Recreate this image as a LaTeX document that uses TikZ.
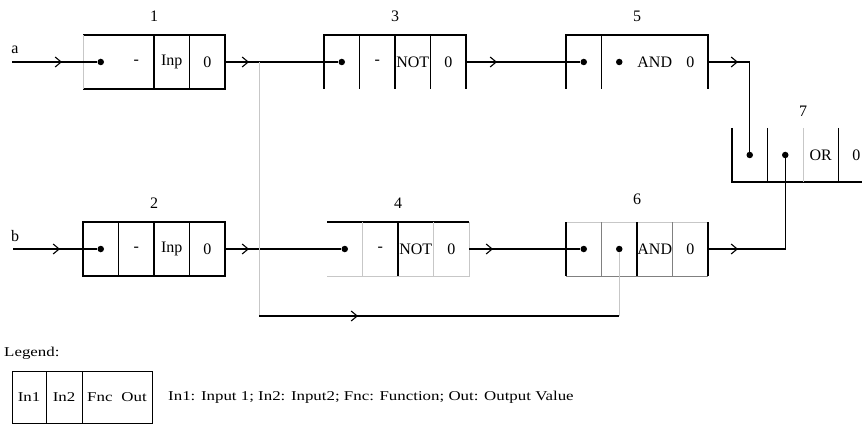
\documentclass[tikz,border=0pt]{standalone}
\usepackage{fontspec}
\setmainfont{Liberation Serif}
\newfontfamily\legendfont[FakeStretch=1.25]{Liberation Serif}
\usetikzlibrary{arrows.meta, positioning, decorations.markings}
\colorlet{faintgrey}{black!22}
\colorlet{midgrey}{black!50}
\tikzset{
  cell/.style={minimum width=35.5pt, minimum height=54pt, inner sep=0pt, outer sep=0pt,
               font=\fontsize{16}{19}\selectfont},
  legcell/.style={draw, line width=1pt, minimum height=52pt, inner sep=0pt, outer sep=0pt,
                  font=\legendfont\fontsize{13.5}{16}\selectfont},
  legtext/.style={inner sep=0pt, font=\legendfont\fontsize{13.5}{16}\selectfont},
  tag/.style={inner sep=0pt, font=\fontsize{16}{19}\selectfont},
  dot/.style={circle, fill, inner sep=0pt, minimum size=6.5pt},
  boxline/.style={line width=1.1pt},
  faintline/.style={line width=1pt, faintgrey},
  greyline/.style={line width=1pt, midgrey},
  wire/.style={line width=1.1pt},
  arrowat/.style={postaction={decorate, decoration={markings,
                  mark=at position #1 with {\arrow{Straight Barb[length=6pt, width=10pt]}}}}}
}

\begin{document}
\begin{tikzpicture}[x=1pt, y=-1pt]
\useasboundingbox (0,0) rectangle (862,425);

% Records (cells side by side)
\node[cell] (r1a) at (100.75,62) {};
\node[cell, right=0pt of r1a] (r1b) {-};
\node[cell, right=0pt of r1b] (r1c) {Inp};
\node[cell, right=0pt of r1c] (r1d) {0};

\node[cell] (r2a) at (100.75,249) {};
\node[cell, right=0pt of r2a] (r2b) {-};
\node[cell, right=0pt of r2b] (r2c) {Inp};
\node[cell, right=0pt of r2c] (r2d) {0};

\node[cell] (r3a) at (341.75,62) {};
\node[cell, right=0pt of r3a] (r3b) {-};
\node[cell, right=0pt of r3b] (r3c) {NOT};
\node[cell, right=0pt of r3c] (r3d) {0};

\node[cell] (r4a) at (344.75,249) {};
\node[cell, right=0pt of r4a] (r4b) {-};
\node[cell, right=0pt of r4b] (r4c) {NOT};
\node[cell, right=0pt of r4c] (r4d) {0};

\node[cell] (r5a) at (583.75,62) {};
\node[cell, right=0pt of r5a] (r5b) {};
\node[cell, right=0pt of r5b] (r5c) {AND};
\node[cell, right=0pt of r5c] (r5d) {0};

\node[cell] (r6a) at (583.75,249) {};
\node[cell, right=0pt of r6a] (r6b) {};
\node[cell, right=0pt of r6b] (r6c) {AND};
\node[cell, right=0pt of r6c] (r6d) {0};

\node[cell] (r7a) at (749.75,155) {};
\node[cell, right=0pt of r7a] (r7b) {};
\node[cell, right=0pt of r7b] (r7c) {OR};
\node[cell, right=0pt of r7c] (r7d) {0};

% Record numbers
\node[tag, above=13pt of r1c.north west] (t1) {1};
\node[tag, above=13pt of r2c.north west] (t2) {2};
\node[tag, above=13pt of r3c.north west] (t3) {3};
\node[tag, above=13pt of r4c.north west] (t4) {4};
\node[tag, above=13pt of r5c.north west] (t5) {5};
\node[tag, above=17pt of r6c.north west] (t6) {6};
\node[tag, above=11pt of r7c.north west] (t7) {7};

% Borders
\draw[boxline] (r1a.north west) -- (r1d.north east) -- (r1d.south east) -- (r1a.south west);
\draw[faintline] (r1a.south west) -- (r1a.north west);
\draw[boxline] (r1c.north west) -- (r1c.south west) (r1d.north west) -- (r1d.south west);

\draw[boxline] (r2a.north west) rectangle (r2d.south east);
\draw[boxline] (r2b.north west) -- (r2b.south west) (r2c.north west) -- (r2c.south west)
               (r2d.north west) -- (r2d.south west);

\draw[boxline] (r3a.south west) -- (r3a.north west) -- (r3d.north east) -- (r3d.south east);
\draw[boxline] (r3b.north west) -- (r3b.south west) (r3c.north west) -- (r3c.south west)
               (r3d.north west) -- (r3d.south west);

\draw[boxline] (r4a.north west) -- (r4d.north east);
\draw[faintline] (r4a.south west) -- (r4d.south east) -- (r4d.north east);
\draw[faintline] (r4b.north west) -- (r4b.south west) (r4d.north west) -- (r4d.south west);
\draw[boxline] (r4c.north west) -- (r4c.south west);

\draw[boxline] (r5a.south west) -- (r5a.north west) -- (r5d.north east) -- (r5d.south east);
\draw[boxline] (r5b.north west) -- (r5b.south west);

\draw[faintline] (r6a.north west) -- (r6d.north east);
\draw[greyline] (r6a.south west) -- (r6d.south east);
\draw[boxline] (r6a.north west) -- (r6a.south west) (r6c.north west) -- (r6c.south west)
               (r6d.north east) -- (r6d.south east);
\draw[greyline] (r6b.north west) -- (r6b.south west) (r6d.north west) -- (r6d.south west);

\draw[boxline] (r7a.north west) -- (r7a.south west) -- (r7d.south east);
\draw[boxline] (r7b.north west) -- (r7b.south west) (r7d.north west) -- (r7d.south west);
\draw[faintline] (r7c.north west) -- (r7c.south west);

% Pointer dots
\node[dot] (d1a) at (r1a) {};
\node[dot] (d2a) at (r2a) {};
\node[dot] (d3a) at (r3a) {};
\node[dot] (d4a) at (r4a) {};
\node[dot] (d5a) at (r5a) {};
\node[dot] (d5b) at (r5b) {};
\node[dot] (d6a) at (r6a) {};
\node[dot] (d6b) at (r6b) {};
\node[dot] (d7a) at (r7a) {};
\node[dot] (d7b) at (r7b) {};

% Inputs
\coordinate (ina) at (12,62);
\coordinate (inb) at (13,249);
\node[tag] (la) at (15,50) {a};
\node[tag] (lb) at (15,236) {b};

% Wires
\draw[wire, arrowat=50pt] (ina) -- (d1a);
\draw[wire, arrowat=47pt] (inb) -- (d2a);
\draw[wire, arrowat=24pt] (r1d.east) -- (d3a);
\draw[wire, arrowat=24pt] (r2d.east) -- (d4a);
\draw[wire, arrowat=31pt] (r3d.east) -- (d5a);
\draw[wire, arrowat=24pt] (r4d.east) -- (d6a);
\draw[wire, arrowat=30pt] (r5d.east) -| (d7a);
\draw[wire, arrowat=30pt] (r6d.east) -| (d7b);

% Branch from 1 to 6
\coordinate (split) at (259,62);
\coordinate (bend) at (259,316);
\draw[faintline] (split) -- (bend);
\draw[wire, arrowat=99pt] (bend) -- (d6b |- bend);
\draw[faintline] (d6b |- bend) -- (d6b);

% Legend
\node[legtext, anchor=west] (legtitle) at (4,353) {Legend:};
\node[legcell, minimum width=34pt] (l1) at (29,397) {In1};
\node[legcell, minimum width=36pt, right=0pt of l1] (l2) {In2};
\node[legcell, minimum width=70pt, right=0pt of l2] (l3) {Fnc\hspace{9pt}Out};
\node[legtext, right=16pt of l3] (desc) {In1: Input 1; In2: Input2; Fnc: Function; Out: Output Value};

\end{tikzpicture}
\end{document}
